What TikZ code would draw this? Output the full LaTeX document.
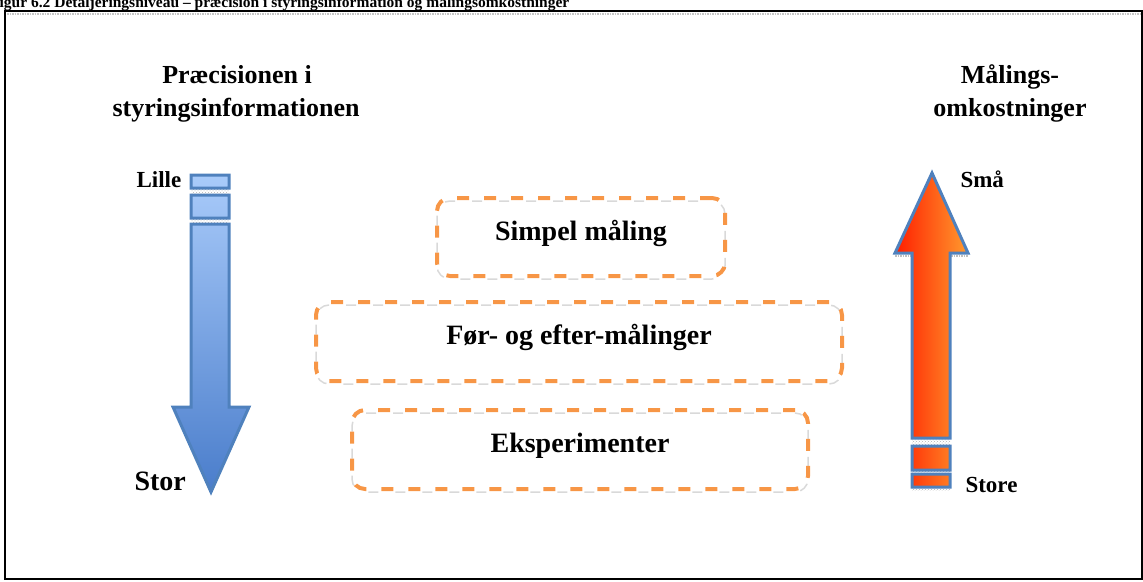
\documentclass[tikz,border=0pt]{standalone}
\usepackage{fontspec}
\setmainfont{Liberation Serif}
\usetikzlibrary{patterns}

\definecolor{edgeblue}{HTML}{4F81BD}
\definecolor{dashorange}{HTML}{F79646}
\definecolor{bluetop}{HTML}{A9CBFA}
\definecolor{bluebot}{HTML}{4A7DCB}
\definecolor{hotred}{HTML}{FF1E00}
\definecolor{warmorange}{HTML}{FF9A2E}

\tikzset{
  titleline/.style={font=\bfseries\fontsize{26}{32}\selectfont, anchor=base},
  endlabel/.style={font=\bfseries\fontsize{23}{28}\selectfont, anchor=base west},
  levelbox/.style={draw=dashorange, line width=4pt, dash pattern=on 12pt off 15pt,
    rounded corners=13pt, text height=0.66em, text depth=0pt,
    font=\bfseries\fontsize{28}{34}\selectfont,
    preaction={draw=gray!30, line width=1.5pt, dash pattern=on 10pt off 17pt,
      dash phase=-14pt, transform canvas={yshift=-3pt}}},
  arrowbody/.style={draw=edgeblue, line width=3pt, line join=miter},
  gapfill/.style={pattern=crosshatch dots, pattern color=gray!60},
}

\begin{document}
\begin{tikzpicture}[x=1pt,y=-1pt]
\useasboundingbox (0,0) rectangle (1143,581);

% caption above the frame
\node[font=\bfseries\fontsize{15.5}{18}\selectfont, anchor=base west, inner sep=0pt]
  (caption) at (-10,7) {Figur 6.2 Detaljeringsniveau -- præcision i styringsinformation og målingsomkostninger};

% frame
\draw[line width=2pt] (5,11) rectangle (1142,579);
\draw[gray!45, line width=1.5pt, densely dotted] (7,14) -- (1141,14);

% column titles
\node[titleline] (precA) at (237,83) {Præcisionen i};
\node[titleline] (precB) at (236,116) {styringsinformationen};
\node[titleline] (costA) at (1010,83) {Målings-};
\node[titleline] (costB) at (1010,116) {omkostninger};

% left arrow: precision, pointing down
\fill[gapfill] (191,188.5) rectangle (229,194.5);
\fill[gapfill] (191,218.5) rectangle (229,223.5);
\draw[arrowbody, top color=bluetop, bottom color=bluebot]
  (191,175) rectangle (229,188)
  (191,195) rectangle (229,218)
  (191,224) -- (229,224) -- (229,407) -- (249,407) -- (211,492)
  -- (173,407) -- (191,407) -- cycle;
\node[endlabel] (lille) at (133,187) {Lille};
\node[endlabel, font=\bfseries\fontsize{28}{32}\selectfont] (stor) at (131,490) {Stor};

% right arrow: measuring cost, pointing up
\fill[gapfill] (912,438.5) rectangle (950,445.5);
\fill[gapfill] (912,470.5) rectangle (950,473.5);
\fill[gapfill] (912,487.5) rectangle (950,490);
\draw[gray!50, line width=1.5pt, densely dotted] (895,256) -- (911,256) (951,256) -- (968,256);
\draw[arrowbody, left color=hotred, right color=warmorange]
  (932,173) -- (968,253) -- (950,253) -- (950,438) -- (912,438)
  -- (912,253) -- (895,253) -- cycle
  (912,446) rectangle (950,470)
  (912,474) rectangle (950,487);
\node[endlabel] (smaa) at (957,187) {Små};
\node[endlabel] (store) at (962,492) {Store};

% measurement levels
\node[levelbox, minimum width=288pt, minimum height=78pt] (simple) at (581,237) {Simpel måling};
\node[levelbox, minimum width=526pt, minimum height=79pt] (prepost) at (579,341.5) {Før- og efter-målinger};
\node[levelbox, minimum width=456pt, minimum height=79pt] (experiment) at (580,449.5) {Eksperimenter};
\end{tikzpicture}
\end{document}
